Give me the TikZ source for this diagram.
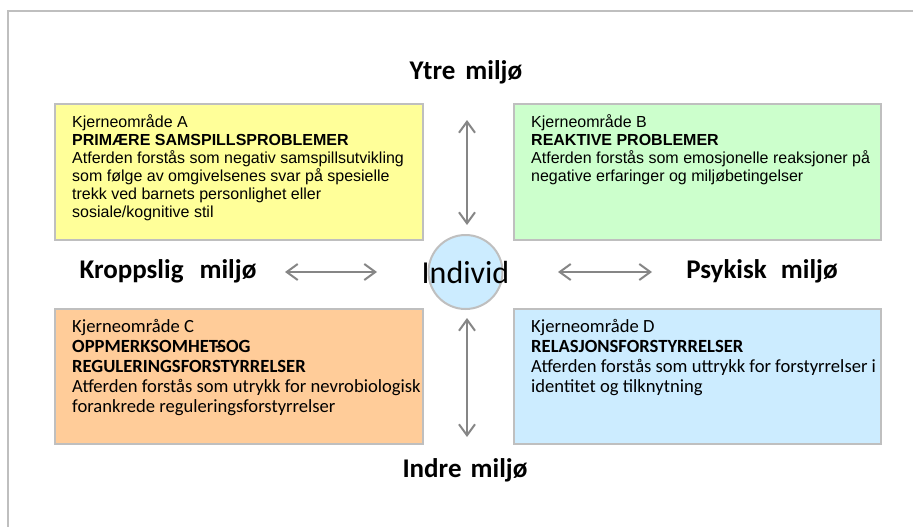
\documentclass[tikz,border=0pt]{standalone}
\usepackage{fontspec}
\setmainfont{Liberation Sans}
\newfontfamily\carlito{Carlito}
\usetikzlibrary{arrows.meta}

\definecolor{frameg}{HTML}{BFBFBF}
\definecolor{arrowg}{HTML}{868686}
\definecolor{fillA}{HTML}{FFFF99}
\definecolor{fillB}{HTML}{CCFFCC}
\definecolor{fillC}{HTML}{FFCC99}
\definecolor{fillD}{HTML}{CCECFF}

\tikzset{
  x=1pt, y=-1pt,
  area/.style={draw=frameg, line width=2pt, anchor=north west, inner sep=0pt},
  boxtext/.style={anchor=north west, inner sep=0pt, align=left},
  arialtext/.style={boxtext, font=\fontsize{16}{18}\selectfont},
  calibritext/.style={boxtext, font=\carlito\fontsize{18.6}{19.8}\selectfont},
  envlabel/.style={font=\carlito\bfseries\fontsize{27}{30}\selectfont, inner sep=0pt},
  twoway/.style={draw=arrowg, line width=2pt,
    {Straight Barb[length=11pt,width=16pt]}-{Straight Barb[length=11pt,width=16pt]}},
}

\begin{document}
\begin{tikzpicture}
\useasboundingbox (0,0) rectangle (913,527);
\fill[white] (0,0) rectangle (913,527);

% outer frame
\draw[frameg, line width=2pt] (7.5,527) |- (913,11);

% the four core areas
\node[area, fill=fillA, minimum width=368pt, minimum height=136pt] (boxA) at (54,103) {};
\node[area, fill=fillB, minimum width=367pt, minimum height=136pt] (boxB) at (513,103) {};
\node[area, fill=fillC, minimum width=368pt, minimum height=135pt] (boxC) at (54,308) {};
\node[area, fill=fillD, minimum width=367pt, minimum height=135pt] (boxD) at (513,308) {};

\node[arialtext] (textA) at (72,114.4) {\strut Kjerneområde A\\
  \textbf{PRIMÆRE SAMSPILLSPROBLEMER}\\
  Atferden forstås som negativ samspillsutvikling\\
  som følge av omgivelsenes svar på spesielle\\
  trekk ved barnets personlighet eller\\
  sosiale/kognitive stil};

\node[arialtext] (textB) at (531,114.4) {\strut Kjerneområde B\\
  \textbf{REAKTIVE PROBLEMER}\\
  Atferden forstås som emosjonelle reaksjoner på\\
  negative erfaringer og miljøbetingelser};

\node[calibritext] (textC) at (72,318.8) {\strut Kjerneområde C\\
  \textbf{OPPMERKSOMHET\kern-3pt-\kern-3.5pt SOG}\\
  \textbf{REGULERINGSFORSTYRRELSER}\\
  Atferden forstås som utrykk for nevrobiologisk\\
  forankrede reguleringsforstyrrelser};

\node[calibritext] (textD) at (531,318.8) {\strut Kjerneområde D\\
  \textbf{RELASJONSFORSTYRRELSER}\\
  Atferden forstås som uttrykk for forstyrrelser i\\
  identitet og tilknytning};

% the individual in the centre
\node[circle, draw=frameg, line width=2pt, fill=fillD, minimum size=74pt, inner sep=0pt] (ind) at (465.5,272) {};
\node[font=\carlito\fontsize{32}{36}\selectfont, inner sep=0pt] (indtext) at (ind) {Individ};

% environment labels
\node[envlabel] (ytre) at (466,72) {Ytre\hspace{4pt} miljø};
\node[envlabel] (indre) at (465,470) {Indre\hspace{3pt} miljø};
\node[envlabel] (kropp) at (168,271) {Kroppslig\hspace{10pt} miljø};
\node[envlabel] (psyk) at (762,271) {Psykisk\hspace{8pt} miljø};

% two-way arrows
\coordinate (upT) at (467,120);
\coordinate (upB) at (467,225);
\coordinate (dnT) at (467,318);
\coordinate (dnB) at (467,437);
\coordinate (lfL) at (285,272);
\coordinate (lfR) at (377,272);
\coordinate (rtL) at (558,272);
\coordinate (rtR) at (652,272);
\draw[twoway] (upT) -- (upB);
\draw[twoway] (dnT) -- (dnB);
\draw[twoway] (lfL) -- (lfR);
\draw[twoway] (rtL) -- (rtR);
\end{tikzpicture}
\end{document}
